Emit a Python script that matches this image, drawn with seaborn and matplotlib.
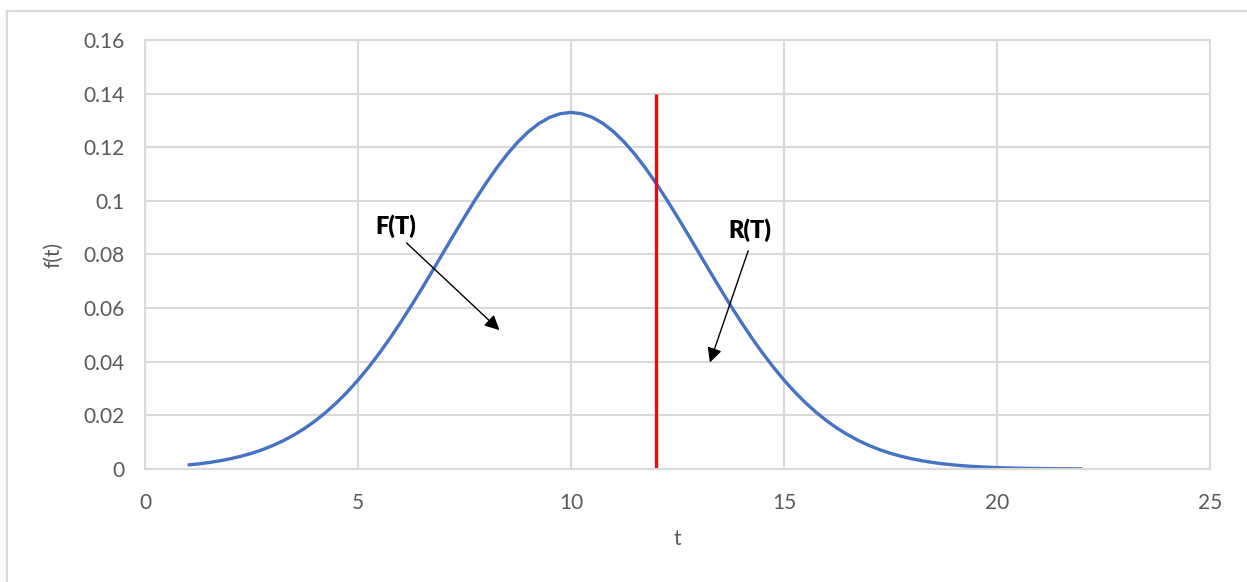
import matplotlib
matplotlib.use("Agg")
import matplotlib.pyplot as plt
from matplotlib.lines import Line2D
import seaborn as sns
import pandas as pd

# Failure density f(t) sampled every quarter unit of t
t_values = [1.0, 1.25, 1.5, 1.75, 2.0, 2.25, 2.5, 2.75, 3.0, 3.25, 3.5, 3.75,
            4.0, 4.25, 4.5, 4.75, 5.0, 5.25, 5.5, 5.75, 6.0, 6.25, 6.5, 6.75,
            7.0, 7.25, 7.5, 7.75, 8.0, 8.25, 8.5, 8.75, 9.0, 9.25, 9.5, 9.75,
            10.0, 10.25, 10.5, 10.75, 11.0, 11.25, 11.5, 11.75, 12.0, 12.25,
            12.5, 12.75, 13.0, 13.25, 13.5, 13.75, 14.0, 14.25, 14.5, 14.75,
            15.0, 15.25, 15.5, 15.75, 16.0, 16.25, 16.5, 16.75, 17.0, 17.25,
            17.5, 17.75, 18.0, 18.25, 18.5, 18.75, 19.0, 19.25, 19.5, 19.75,
            20.0, 20.25, 20.5, 20.75, 21.0, 21.25, 21.5, 21.75, 22.0]
f_values = [0.00148, 0.00189, 0.00240, 0.00303, 0.00380, 0.00473, 0.00584,
            0.00717, 0.00874, 0.01058, 0.01272, 0.01518, 0.01800, 0.02119,
            0.02477, 0.02876, 0.03316, 0.03797, 0.04317, 0.04875, 0.05467,
            0.06088, 0.06733, 0.07395, 0.08066, 0.08736, 0.09397, 0.10038,
            0.10648, 0.11218, 0.11736, 0.12192, 0.12579, 0.12889, 0.13115,
            0.13252, 0.13298, 0.13252, 0.13115, 0.12889, 0.12579, 0.12192,
            0.11736, 0.11218, 0.10648, 0.10038, 0.09397, 0.08736, 0.08066,
            0.07395, 0.06733, 0.06088, 0.05467, 0.04875, 0.04317, 0.03797,
            0.03316, 0.02876, 0.02477, 0.02119, 0.01800, 0.01518, 0.01272,
            0.01058, 0.00874, 0.00717, 0.00584, 0.00473, 0.00380, 0.00303,
            0.00240, 0.00189, 0.00148, 0.00115, 0.00088, 0.00068, 0.00051,
            0.00039, 0.00029, 0.00022, 0.00016, 0.00012, 0.00009, 0.00006,
            0.00004]

# Mission time T and height of the marker line
mission_t = 12
marker_top = 0.14

x_ticks = [0, 5, 10, 15, 20, 25]
y_ticks = [0, 0.02, 0.04, 0.06, 0.08, 0.1, 0.12, 0.14, 0.16]
y_tick_labels = ["0", "0.02", "0.04", "0.06", "0.08", "0.1", "0.12", "0.14", "0.16"]

df = pd.DataFrame({"t": t_values, "f": f_values})

sns.set_theme(style="whitegrid")
plt.rcParams["font.family"] = ["Lato", "DejaVu Sans"]

grid_col = "#d9d9d9"
text_col = "#595959"

fig = plt.figure(figsize=(12.47, 5.82), dpi=100)
ax = fig.add_axes([0.1163, 0.1942, 0.8540, 0.7371])

sns.lineplot(data=df, x="t", y="f", ax=ax, color="#4472C4", linewidth=2.4,
             solid_capstyle="butt")
ax.plot([mission_t, mission_t], [0, marker_top], color="#FF0000", linewidth=2.4,
        solid_capstyle="butt")

ax.set_xlim(0, 25)
ax.set_ylim(0, 0.16)
ax.set_xticks(x_ticks)
ax.set_xticklabels([str(v) for v in x_ticks])
ax.set_yticks(y_ticks)
ax.set_yticklabels(y_tick_labels)

ax.grid(True, color=grid_col, linewidth=1.5)
for side in ax.spines.values():
    side.set_color(grid_col)
    side.set_linewidth(1.5)
ax.tick_params(axis="both", length=0, labelsize=15, labelcolor=text_col)
ax.tick_params(axis="x", pad=17)
ax.tick_params(axis="y", pad=15)

ax.set_xlabel("t", fontsize=15, color=text_col, labelpad=12)
ax.set_ylabel("f(t)", fontsize=15, color=text_col, labelpad=14)

# Region labels with arrows
ax.text(5.89, 0.0906, "F(T)", fontsize=17, fontweight="heavy", color="black",
        ha="center", va="center")
ax.annotate("", xy=(8.32, 0.0518), xytext=(6.14, 0.0843),
            arrowprops=dict(arrowstyle="-|>", color="black", lw=1.0,
                            mutation_scale=22, shrinkA=0, shrinkB=0))
ax.text(14.2, 0.0891, "R(T)", fontsize=17, fontweight="heavy", color="black",
        ha="center", va="center")
ax.annotate("", xy=(13.26, 0.0397), xytext=(14.16, 0.0814),
            arrowprops=dict(arrowstyle="-|>", color="black", lw=1.0,
                            mutation_scale=22, shrinkA=0, shrinkB=0))

# Chart frame (top and left edges)
fig.add_artist(Line2D([7 / 1247, 1.0], [1 - 11 / 582, 1 - 11 / 582],
                      transform=fig.transFigure, color=grid_col, linewidth=1.5))
fig.add_artist(Line2D([7 / 1247, 7 / 1247], [0.0, 1 - 11 / 582],
                      transform=fig.transFigure, color=grid_col, linewidth=1.5))

fig.savefig("out.png", dpi=100, facecolor="white")
